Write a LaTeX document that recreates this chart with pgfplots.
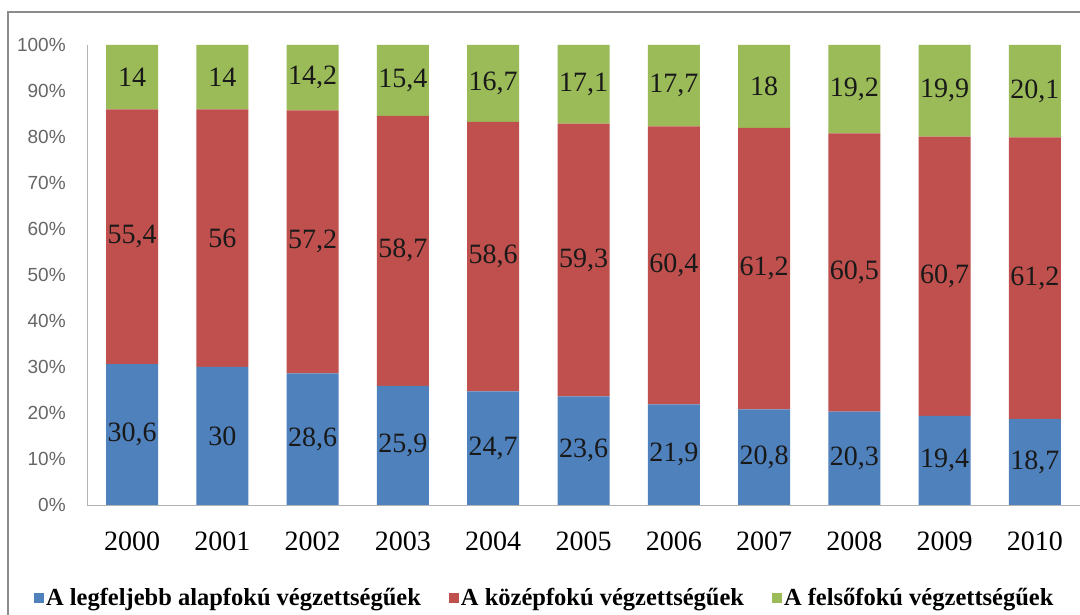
\documentclass[border=0pt]{standalone}
\usepackage{pgfplots}
\pgfplotsset{compat=1.18}
\usepackage{pgfplotstable}
\usepackage{fontspec}
\setmainfont{Liberation Serif}
\setsansfont{Liberation Sans}
\definecolor{cb}{HTML}{4F81BD}
\definecolor{cr}{HTML}{C0504D}
\definecolor{cg}{HTML}{9BBB59}
\pgfplotstableread{
x b r g
0 30.6 55.4 14
1 30 56 14
2 28.6 57.2 14.2
3 25.9 58.7 15.4
4 24.7 58.6 16.7
5 23.6 59.3 17.1
6 21.9 60.4 17.7
7 20.8 61.2 18
8 20.3 60.5 19.2
9 19.4 60.7 19.9
10 18.7 61.2 20.1
}\data
\pgfplotsset{
  common/.style={at={(87pt,110pt)}, anchor=south west, scale only axis,
    width=993pt, height=460pt, xmin=-0.5, xmax=10.5, ymin=0, ymax=100},
}
\begin{document}
\begin{tikzpicture}
\path[use as bounding box] (0,0) rectangle (1080pt,615pt);
\fill[white] (0,0) rectangle (1080pt,615pt);
\draw[gray!90, line width=2pt] (8pt,-5pt) -- (8pt,603pt) -- (1090pt,603pt);
\begin{axis}[common,
  ybar stacked, bar width=52pt,
  axis x line=bottom, axis y line=left,
  axis line style={-, draw=gray!60, line width=0.8pt},
  tick style={draw=none},
  xtick={0,...,10},
  xticklabels={2000,2001,2002,2003,2004,2005,2006,2007,2008,2009,2010},
  xticklabel style={anchor=base, yshift=-43pt, font=\fontsize{28}{28}\selectfont},
  ytick={0,10,...,100},
  yticklabel={\pgfmathprintnumber{\tick}\%},
  /pgf/number format/assume math mode=true,
  yticklabel style={anchor=east, inner sep=0pt, xshift=-19pt, text=gray!80!black,
    font=\fontsize{19}{19}\selectfont\sffamily},
  legend columns=3,
  legend style={at={(0.461,-0.202)}, anchor=center, draw=none, fill=none,
    font=\fontsize{24.5}{25}\selectfont\bfseries,
    /tikz/every even column/.append style={column sep=26pt}},
  legend image code/.code={\fill[#1] (0pt,-5pt) rectangle (10pt,5pt);},
]
\addplot[fill=cb, draw=none] table[x=x, y=b] {\data};
\addlegendentry{A legfeljebb alapfokú végzettségűek}
\addplot[fill=cr, draw=none] table[x=x, y=r] {\data};
\addlegendentry{A középfokú végzettségűek}
\addplot[fill=cg, draw=none] table[x=x, y=g] {\data};
\addlegendentry{A felsőfokú végzettségűek}
\end{axis}
\begin{axis}[common, hide axis, clip=false,
  /pgf/number format/use comma,
  /pgf/number format/assume math mode=true,
  nodes near coords,
  every node near coord/.style={anchor=center, text=black!90, font=\fontsize{28}{28}\selectfont},
]
\addplot[draw=none, point meta=\thisrow{b}] table[x=x, y expr=\thisrow{b}/2] {\data};
\addplot[draw=none, point meta=\thisrow{r}] table[x=x, y expr=\thisrow{b}+\thisrow{r}/2] {\data};
\addplot[draw=none, point meta=\thisrow{g}] table[x=x, y expr=\thisrow{b}+\thisrow{r}+\thisrow{g}/2] {\data};
\end{axis}
\end{tikzpicture}
\end{document}
